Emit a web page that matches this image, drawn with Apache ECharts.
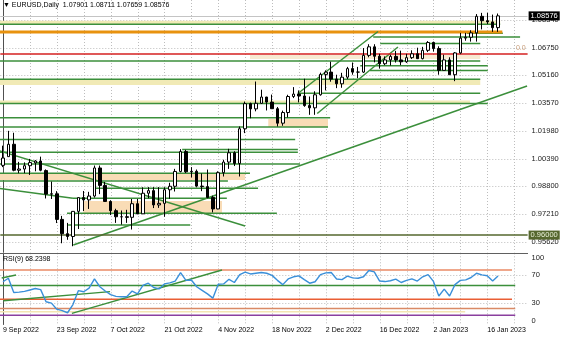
<!DOCTYPE html>
<html><head><meta charset="utf-8">
<script src="https://cdn.jsdelivr.net/npm/echarts@6/dist/echarts.min.js"></script>
<style>html,body{margin:0;padding:0;background:#fff}#c{width:564px;height:338px}</style>
</head><body><div id="c"></div>
<script>
// ---------- DATA ----------
const dates = ['2022-09-09','2022-09-12','2022-09-13','2022-09-14','2022-09-15','2022-09-16','2022-09-19','2022-09-20','2022-09-21','2022-09-22','2022-09-23','2022-09-26','2022-09-27','2022-09-28','2022-09-29','2022-09-30',
'2022-10-03','2022-10-04','2022-10-05','2022-10-06','2022-10-07','2022-10-10','2022-10-11','2022-10-12','2022-10-13','2022-10-14','2022-10-17','2022-10-18','2022-10-19','2022-10-20','2022-10-21','2022-10-24','2022-10-25','2022-10-26','2022-10-27','2022-10-28','2022-10-31',
'2022-11-01','2022-11-02','2022-11-03','2022-11-04','2022-11-07','2022-11-08','2022-11-09','2022-11-10','2022-11-11','2022-11-14','2022-11-15','2022-11-16','2022-11-17','2022-11-18','2022-11-21','2022-11-22','2022-11-23','2022-11-24','2022-11-25','2022-11-28','2022-11-29','2022-11-30',
'2022-12-01','2022-12-02','2022-12-05','2022-12-06','2022-12-07','2022-12-08','2022-12-09','2022-12-12','2022-12-13','2022-12-14','2022-12-15','2022-12-16','2022-12-19','2022-12-20','2022-12-21','2022-12-22','2022-12-23','2022-12-27','2022-12-28','2022-12-29','2022-12-30',
'2023-01-02','2023-01-03','2023-01-04','2023-01-05','2023-01-06','2023-01-09','2023-01-10','2023-01-11','2023-01-12','2023-01-13','2023-01-16','2023-01-17','2023-01-18'];
const opens  = [1.0000,1.0050,1.0121,0.9972,0.9979,0.9998,1.0014,1.0025,0.9970,0.9835,0.9837,0.9690,0.9608,0.9592,0.9736,0.9815,
0.9802,0.9824,0.9985,0.9885,0.9793,0.9740,0.9705,0.9705,0.9702,0.9780,0.9722,0.9840,0.9855,0.9773,0.9782,0.9860,0.9880,0.9965,1.0079,0.9963,0.9966,
0.9881,0.9878,0.9816,0.9750,0.9958,1.0019,1.0072,1.0011,1.0210,1.0354,1.0324,1.0356,1.0392,1.0363,1.0325,1.0242,1.0303,1.0395,1.0409,1.0398,1.0343,1.0330,
1.0405,1.0522,1.0535,1.0495,1.0468,1.0506,1.0555,1.0535,1.0535,1.0631,1.0680,1.0626,1.0583,1.0605,1.0625,1.0605,1.0594,1.0618,1.0640,1.0612,1.0660,
1.0705,1.0670,1.0545,1.0605,1.0520,1.0645,1.0730,1.0735,1.0760,1.0855,1.0830,1.0823,1.07901];
const closes = [1.0042,1.0121,0.9972,0.9979,0.9998,1.0016,1.0025,0.9972,0.9835,0.9837,0.9690,0.9608,0.9592,0.9736,0.9815,0.9802,
0.9824,0.9985,0.9885,0.9793,0.9740,0.9705,0.9705,0.9702,0.9780,0.9722,0.9840,0.9855,0.9773,0.9782,0.9860,0.9880,0.9965,1.0079,0.9963,0.9966,0.9881,
0.9878,0.9816,0.9750,0.9958,1.0019,1.0072,1.0011,1.0210,1.0354,1.0324,1.0356,1.0392,1.0363,1.0325,1.0242,1.0303,1.0395,1.0409,1.0398,1.0343,1.0330,1.0405,
1.0522,1.0535,1.0495,1.0468,1.0506,1.0555,1.0535,1.0535,1.0631,1.0680,1.0626,1.0583,1.0605,1.0625,1.0605,1.0594,1.0618,1.0640,1.0612,1.0660,1.0705,
1.0670,1.0545,1.0605,1.0520,1.0645,1.0730,1.0735,1.0760,1.0855,1.0830,1.0823,1.0790,1.08576];
const lows   = [0.9990,1.0050,0.9966,0.9955,0.9955,0.9945,0.9966,0.9966,0.9810,0.9807,0.9669,0.9553,0.9573,0.9536,0.9635,0.9738,
0.9750,0.9815,0.9835,0.9790,0.9715,0.9670,0.9660,0.9670,0.9632,0.9720,0.9722,0.9811,0.9755,0.9756,0.9705,0.9808,0.9850,0.9960,0.9956,0.9930,0.9874,
0.9852,0.9811,0.9730,0.9748,0.9936,0.9980,0.9996,0.9936,1.0185,1.0270,1.0310,1.0353,1.0315,1.0325,1.0223,1.0227,1.0275,1.0386,1.0361,1.0336,1.0290,1.0290,
1.0400,1.0430,1.0480,1.0443,1.0445,1.0495,1.0520,1.0500,1.0530,1.0620,1.0591,1.0555,1.0575,1.0573,1.0590,1.0575,1.0588,1.0610,1.0610,1.0608,1.0650,
1.0653,1.0520,1.0545,1.0520,1.0483,1.0640,1.0715,1.0710,1.0710,1.0780,1.0810,1.0766,1.07659];
const highs  = [1.0113,1.0198,1.0187,1.0020,1.0017,1.0037,1.0030,1.0050,0.9977,0.9907,0.9852,0.9710,0.9670,0.9737,0.9815,0.9853,
0.9848,0.9999,0.9999,0.9905,0.9800,0.9751,0.9741,0.9745,0.9807,0.9807,0.9874,0.9875,0.9875,0.9875,0.9874,0.9900,0.9980,1.0093,1.0089,0.9990,0.9976,
0.9954,0.9976,0.9826,0.9966,1.0032,1.0095,1.0081,1.0223,1.0366,1.0360,1.0481,1.0434,1.0393,1.0406,1.0335,1.0314,1.0405,1.0449,1.0430,1.0497,1.0395,1.0425,
1.0532,1.0545,1.0595,1.0520,1.0531,1.0565,1.0590,1.0565,1.0673,1.0695,1.0695,1.0640,1.0625,1.0635,1.0657,1.0658,1.0640,1.0660,1.0675,1.0680,1.0713,
1.0710,1.0683,1.0635,1.0620,1.0650,1.0760,1.0760,1.0775,1.0868,1.0875,1.0875,1.0865,1.08711];
const rsiValues = [60,65,45,45.5,46.5,48.5,50.5,49,32,30,21.5,19.5,16.5,28,47.5,46,
51,64,53,47,42,39.5,39,39,47,43,55,58,52,50,57,58.5,61,73,62,62.5,53,
48,43,37,56.5,57,63.5,59,70,73.5,71,72,73,72,69,62,56,64,67,68.3,63,58,60,
70,72.5,73,64,63,68,65.5,65,67,75.8,74,61,60.3,61.5,63.7,59,62,64,61,67,70,
60.5,40,49.6,40,56,62,62.7,66,72,69.7,68.5,61,68.24];
const futureSlots = ['+1','+2','+3','+4','+5'];
const priceTicks = [0.95620,0.97210,0.98800,1.00390,1.01980,1.03570,1.05160,1.06750,1.08340];
const dateLabelBars = [0,10,20,30,40,50,60,70,80,90];
const gridBars = [5,10,15,20,25,30,35,40,45,50,55,60,65,70,75,80,85,90,95];
const rsiTicks = [5.3,30,70,93.4];
const rsiTickText = ['0','30','70','100'];
const rsiGridLevels = [30,70];
const bidPrice = 1.08576;
const roundLevel = 0.96000;
const redLevel = 1.06389;
// horizontal segments [price, fromBar, toBar]
const greenSegs = [[1.08093,-0.6,92.4],[1.07576,86.2,92.9],[1.07364,68.8,96.1],[1.06991,70.1,88.7],[1.05987,-0.6,88.7],
[1.05717,66.4,90.1],[1.05442,68.2,90.1],[1.04937,-0.6,88.7],[1.04134,54.8,88.7],[1.03549,-0.6,90.1],[1.02728,-0.6,60.8],
[1.02200,-0.6,60.4],[1.01483,-0.6,54.3],[1.00915,33.3,54.8],[1.00749,-0.6,54.8],[1.00077,-0.6,55.2],[0.99544,-0.6,45.9],
[0.99102,-0.6,41.8],[0.98683,17.1,47.4],[0.98110,13.0,41.6],[0.97249,11.9,50.9],[0.96578,12.1,34.8]];
const orangeSegs = [[1.0765,-0.6,92.8]];
// trend lines [bar0, price0, bar1, price1]
const trendLines = [[-0.6,0.98672,13.0,0.98110],[-0.6,1.00823,45.0,0.96521],[13.07,0.95430,97.4,1.04553],
[54.8,1.04122,69.7,1.07679],[58.4,1.02975,73.4,1.06790]];
// zones [priceLow, priceHigh, fromBar, toBar]
const khakiZones = [[1.0811,1.0829,-0.6,92.4],[1.0461,1.0490,-0.6,88.7],[1.0358,1.0372,-0.6,86.8]];
const creamZones = [[1.0610,1.0633,45.9,88.7]];
const peachZones = [[1.0220,1.0266,49.3,60.4],[0.99159,0.99544,-0.6,45.0],[0.97266,0.97955,14.9,40.7]];
// RSI panel levels [value, fromBar, toBar]
const rsiOrange = [[76.5,-0.6,94.6]];
const rsiGreen = [[54.8,-0.6,95.2]];
const rsiRed = [[35.5,-0.6,94.6]];
const rsiSalmon = [[22.5,-0.6,95.2]];
const rsiPale = [[18.0,-0.6,85.9]];
const rsiPurple = [[12.9,-0.6,95.2]];
const rsiTrends = [[-0.24,65.3,2.42,69.5],[0.06,33.4,19.9,46.1],[12.8,15.7,40.7,76.5]];

// ---------- CHART ----------
const FONT = 'Liberation Sans';
const MON = ['Jan','Feb','Mar','Apr','May','Jun','Jul','Aug','Sep','Oct','Nov','Dec'];
function fmtDate(s){ const p=s.split('-'); return (+p[2])+' '+MON[+p[1]-1]+' '+p[0]; }
const cats = dates.concat(futureSlots);
const N = cats.length;
const candles = dates.map((d,i)=>[opens[i],closes[i],lows[i],highs[i]]);

const GL = 0.31, GW = 527.3;
const series = [];
function vGrid(xi, yi){
  return {type:'custom', xAxisIndex:xi, yAxisIndex:yi, silent:true, z:0, animation:false,
    data: gridBars.map(b=>[b,0]), encode:{x:0,y:1},
    renderItem:(params, api)=>{ const x=Math.round(api.coord([api.value(0),api.value(1)])[0])+0.5; const cs=params.coordSys;
      return {type:'line', shape:{x1:x,y1:cs.y,x2:x,y2:cs.y+cs.height}, style:{stroke:'#bdbdbd',lineWidth:1,lineDash:[1,2]}}; }};
}
function hGrid(xi, yi, vals){
  return {type:'custom', xAxisIndex:xi, yAxisIndex:yi, silent:true, z:0, animation:false,
    data: vals.map(v=>[0,v]), encode:{x:0,y:1},
    renderItem:(params, api)=>{ const y=Math.round(api.coord([api.value(0),api.value(1)])[1])+0.5; const cs=params.coordSys;
      return {type:'line', shape:{x1:cs.x,y1:y,x2:cs.x+cs.width,y2:y}, style:{stroke:'#bdbdbd',lineWidth:1,lineDash:[1,2]}}; }};
}
function zones(list, color){
  return {type:'custom', xAxisIndex:1, yAxisIndex:0, silent:true, z:1, animation:false,
    data:list.map(z=>[z[2],z[3],z[0],z[1]]), encode:{x:[0,1],y:[2,3]},
    renderItem:(params, api)=>{ const a=api.coord([api.value(0),api.value(3)]); const b=api.coord([api.value(1),api.value(2)]);
      return {type:'rect', shape:{x:a[0],y:a[1],width:b[0]-a[0],height:b[1]-a[1]}, style:{fill:color}}; }};
}
function segs(list, xi, yi, color, width, z){
  list.forEach(s=>series.push({type:'line', xAxisIndex:xi, yAxisIndex:yi, data:[[s[1],s[0]],[s[2],s[0]]], symbol:'none', silent:true, animation:false, z:z||2,
    lineStyle:{color:color,width:width}}));
}
function lines(list, xi, yi, color, width){
  list.forEach(s=>series.push({type:'line', xAxisIndex:xi, yAxisIndex:yi, data:[[s[0],s[1]],[s[2],s[3]]], symbol:'none', silent:true, animation:false, z:2,
    lineStyle:{color:color,width:width}}));
}
series.push(vGrid(1,0), hGrid(1,0,priceTicks), vGrid(3,1), hGrid(3,1,rsiGridLevels));
series.push(zones(khakiZones,'#f1eab6'), zones(creamZones,'#f7ead2'), zones(peachZones,'#f9dcb6'));
segs(greenSegs,1,0,'#3b8f3b',1.5);
segs(orangeSegs,1,0,'#e8920e',3);
lines(trendLines,1,0,'#3b8f3b',1.5);
segs(rsiOrange,3,1,'#ea8a64',1.4);
segs(rsiGreen,3,1,'#3b8f3b',1.4);
segs(rsiRed,3,1,'#ea5e34',1.4);
segs(rsiSalmon,3,1,'#d98a66',1.4);
segs(rsiPale,3,1,'#f3e4b2',1.6);
segs(rsiPurple,3,1,'#8a3f9e',1.4);
lines(rsiTrends,3,1,'#3b8f3b',1.4);
series.push({type:'line', xAxisIndex:2, yAxisIndex:1, data:rsiValues, symbol:'none', animation:false, z:4,
  lineStyle:{color:'#3a8fd9', width:1.4}});
series.push({type:'candlestick', xAxisIndex:0, yAxisIndex:0, data:candles, barWidth:3, z:5, animation:false,
  itemStyle:{color:'#ffffff', color0:'#000000', borderColor:'#000000', borderColor0:'#000000', borderWidth:1},
  markLine:{symbol:['none','none'], silent:true, animation:false, precision:5,
    data:[
      {yAxis:redLevel, lineStyle:{color:'#d42020',width:1.5,type:'solid'}, label:{show:true,position:'insideEndTop',formatter:'0.0',color:'#c89c78',fontSize:7,fontFamily:FONT,distance:2}},
      {yAxis:bidPrice, lineStyle:{color:'#c4c4c4',width:1,type:'solid'}, label:{show:true,position:'end',formatter:bidPrice.toFixed(5),color:'#ffffff',backgroundColor:'#000000',padding:[1,2,0,2],fontSize:7.5,fontFamily:FONT,distance:1}},
      {yAxis:roundLevel, lineStyle:{color:'#55672e',width:1.5,type:'solid'}, label:{show:true,position:'end',formatter:roundLevel.toFixed(5),color:'#e8f0d8',backgroundColor:'#55672e',padding:[1,2,0,2],fontSize:7.5,fontFamily:FONT,distance:1}}
    ]}});

const option = {
  animation:false,
  backgroundColor:'#ffffff',
  textStyle:{fontFamily:FONT},
  title:[
    {text:'\u25BC EURUSD,Daily  1.07901 1.08711 1.07659 1.08576', left:3, top:2, padding:0, textStyle:{fontSize:7, fontWeight:'normal', color:'#000', fontFamily:FONT}},
    {text:'RSI(9) 68.2398', left:3, top:256, padding:0, textStyle:{fontSize:7, fontWeight:'normal', color:'#000', fontFamily:FONT}}
  ],
  grid:[
    {left:GL, top:0, width:GW, height:252.3},
    {left:GL, top:253.3, width:GW, height:71.2}
  ],
  xAxis:[
    {type:'category', gridIndex:0, data:cats, boundaryGap:true, show:false},
    {type:'value', gridIndex:0, min:-0.5, max:N-0.5, show:false},
    {type:'category', gridIndex:1, data:cats, boundaryGap:true, position:'bottom',
      axisLine:{show:false}, axisTick:{show:false}, splitLine:{show:false},
      axisLabel:{interval:(idx)=>dateLabelBars.indexOf(idx)>=0, formatter:(v)=>fmtDate(v), align:'left', margin:2, fontSize:7, color:'#000', fontFamily:FONT, hideOverlap:false}},
    {type:'value', gridIndex:1, min:-0.5, max:N-0.5, position:'top', axisLine:{show:true, onZero:false, lineStyle:{color:'#606060',width:1}}, axisTick:{show:false}, axisLabel:{show:false}, splitLine:{show:false}}
  ],
  yAxis:[
    {type:'value', gridIndex:0, min:0.95012, max:1.09487, position:'right', scale:true,
      axisLine:{show:true, lineStyle:{color:'#505050',width:1}}, axisTick:{show:false}, splitLine:{show:false},
      axisLabel:{customValues:priceTicks, formatter:(v)=>v.toFixed(5), fontSize:7.5, color:'#1a1a1a', margin:4, fontFamily:FONT}},
    {type:'value', gridIndex:1, min:0, max:100, position:'right',
      axisLine:{show:true, lineStyle:{color:'#505050',width:1}}, axisTick:{show:false}, splitLine:{show:false},
      axisLabel:{customValues:rsiTicks, formatter:(v)=>rsiTickText[rsiTicks.indexOf(v)] ?? '', fontSize:7.5, color:'#1a1a1a', margin:4, fontFamily:FONT}}
  ],
  series:series
};
const chart = echarts.init(document.getElementById('c'), null, {renderer:'canvas'});
chart.setOption(option);
</script></body></html>
